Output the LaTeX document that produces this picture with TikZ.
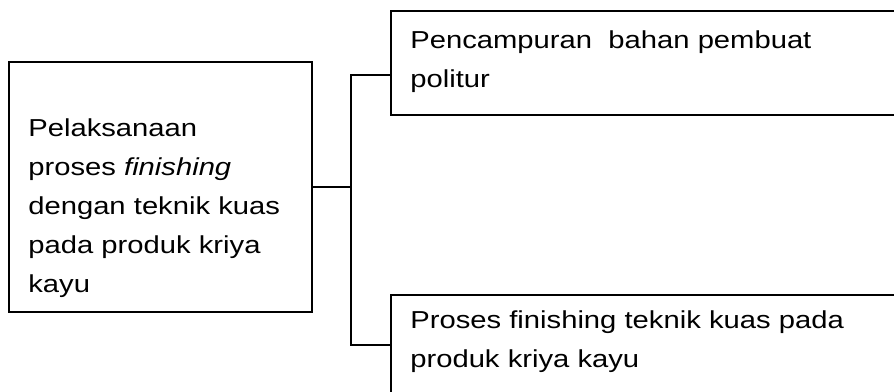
\documentclass[tikz,border=0pt]{standalone}
\usepackage{fontspec}
\setmainfont{Liberation Sans}[FakeStretch=1.19]
\begin{document}
\begin{tikzpicture}[x=0.75pt,y=-0.75pt,line width=1.4pt,
	font=\fontsize{18.4pt}{29.25pt}\selectfont,
	kotak/.style={draw, rectangle, anchor=north west, outer sep=0pt, inner xsep=14.5pt, inner ysep=0pt, align=left}]
	%frame------------------------------------
	\clip (0,0) rectangle (894,392);
	%boxes------------------------------------
	\node[kotak, minimum width=227.25pt, text width=198.25pt, text height=56.25pt, text depth=131.25pt] (kiri) at (9,62) {Pelaksanaan\\proses \textit{finishing}\\dengan teknik kuas\\pada produk kriya\\kayu}; %left box
	\node[kotak, minimum width=390pt, text width=361pt, text height=28.5pt, text depth=49.5pt] (atas) at (391,11) {Pencampuran\ \ bahan pembuat\\politur}; %top box
	\node[kotak, minimum width=390pt, text width=361pt, text height=25.5pt, text depth=90pt] (bawah) at (391,295) {Proses finishing teknik kuas pada\\produk kriya kayu}; %bottom box
	%connectors-------------------------------
	\coordinate (cabang) at (351,187); %branch point
	\coordinate (ujungatas) at (391,75); %top end
	\coordinate (ujungbawah) at (391,345); %bottom end
	\draw (kiri.east) -- (cabang);
	\draw (ujungatas) -| (cabang) |- (ujungbawah);
\end{tikzpicture}
\end{document}
